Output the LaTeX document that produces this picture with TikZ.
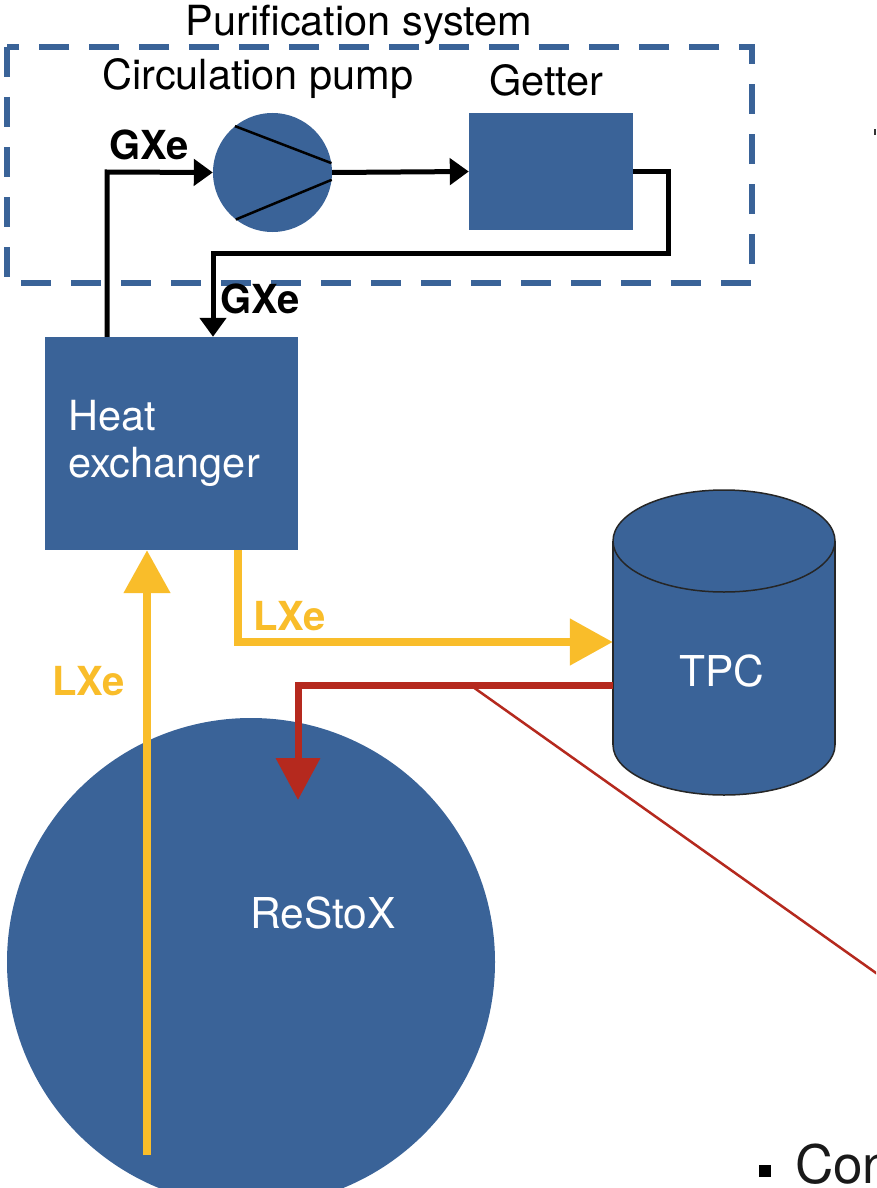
\documentclass[tikz,border=0pt]{standalone}
\usepackage{fontspec}
\setmainfont{TeX Gyre Heros}
\usetikzlibrary{arrows.meta,calc}
\definecolor{boxblue}{RGB}{58,99,152}
\definecolor{lxecol}{RGB}{249,189,42}
\definecolor{redcol}{RGB}{181,41,30}
\begin{document}
\begin{tikzpicture}[x=1pt,y=-1pt,
  lbl/.style={font=\fontsize{41.5}{47}\selectfont, inner sep=0pt},
  bold lbl/.style={font=\fontsize{40}{46}\selectfont\bfseries, inner sep=0pt},
  wlbl/.style={lbl, text=white},
  blockbox/.style={fill=boxblue, inner sep=0pt},
  blkflow/.style={draw=black, line width=5pt, -{Triangle[length=19pt,width=26pt]}},
  lxeflow/.style={draw=lxecol, line width=8pt, -{Triangle[length=43pt,width=45pt]}},
  redflow/.style={draw=redcol, line width=7pt, -{Triangle[length=42pt,width=43pt]}},
  purifbox/.style={draw=boxblue, line width=5.5pt, dash pattern=on 30pt off 20pt},
]
\useasboundingbox (0,0) rectangle (876,1188);
\clip (0,0) rectangle (876,1188);
\fill[white] (0,0) rectangle (876,1188);

% purification system frame
\draw[purifbox] (7,47) rectangle (752,283);
\node[lbl, anchor=base] (purif) at (359,36) {Purification system};
\node[lbl, anchor=base west] (pumplbl) at (102,90) {Circulation pump};
\node[lbl, anchor=base west] (getterlbl) at (489,96) {Getter};

% pump and getter
\node[circle, blockbox, minimum size=119pt] (pump) at (272.5,172.5) {};
\draw[black, line width=2.5pt] (pump.129.5) -- (pump.9);
\draw[black, line width=2.5pt] (pump.232) -- (pump.353);
\node[blockbox, minimum width=164pt, minimum height=117pt] (getter) at (551,171.5) {};

% heat exchanger
\node[blockbox, minimum width=253pt, minimum height=213pt] (hx) at (171.5,443.5) {};
\node[wlbl, anchor=north west, align=left] (hxlbl) at (68,400) {Heat\\exchanger};

% TPC cylinder
\node[minimum width=222pt, minimum height=306pt, inner sep=0pt] (tpc) at (724,642) {};
\fill[boxblue, draw=black!85, line width=1.5pt] (724,745) ellipse [x radius=111, y radius=50];
\fill[boxblue] (613,541) rectangle (835,745);
\draw[black!85, line width=1.5pt] (613,541) -- (613,745) (835,541) -- (835,745);
\fill[boxblue, draw=black!85, line width=1.5pt] (724,541) ellipse [x radius=111, y radius=51];
\node[wlbl, font=\fontsize{42.5}{48}\selectfont, anchor=base] (tpclbl) at (722,686) {TPC};

% ReStoX
\node[circle, blockbox, minimum size=488pt] (restox) at (251,962) {};
\node[wlbl, font=\fontsize{42.5}{48}\selectfont, anchor=base west] (restoxlbl) at (250,928) {ReStoX};

% gas flows
\coordinate (gxup) at (107,172);
\draw[blkflow] (gxup |- hx.north) -- (gxup) -- (pump.west);
\node[bold lbl, anchor=base west] (gxe1) at (109,160) {GXe};
\draw[blkflow] (pump.east) -- (getter.west);
\coordinate (ret1) at (668,253);
\coordinate (ret2) at (213,253);
\draw[blkflow] (getter.east) -| (ret1) -- (ret2) -- (ret2 |- hx.north);
\node[bold lbl, anchor=base west] (gxe2) at (220,313) {GXe};

% liquid flows
\coordinate (lxebot) at (147,1155);
\draw[lxeflow] (lxebot) -- (lxebot |- hx.south);
\node[bold lbl, text=lxecol, anchor=base west] (lxe1) at (52,695) {LXe};
\coordinate (lxeout) at (238,550);
\draw[lxeflow] (lxeout |- hx.south) |- (tpc.west);
\node[bold lbl, text=lxecol, anchor=base west] (lxe2) at (253,630) {LXe};

% return to ReStoX
\coordinate (redstart) at ($(tpc.west)+(0,43)$);
\coordinate (redtip) at (298,800);
\draw[redflow] (redstart) -| (redtip);
\coordinate (thinA) at (473,687);
\coordinate (thinB) at (900,990);
\draw[redcol, line width=2.5pt] (thinA) -- (thinB);

% cut-off slide text
\node[fill=black, minimum size=12pt, inner sep=0pt] (bullet) at (764.5,1171) {};
\node[font=\fontsize{53}{60}\selectfont, inner sep=0pt, anchor=base west, text=black!90] (contxt) at (795,1183) {Con};
\node[fill=black!80, minimum width=2pt, minimum height=6pt, inner sep=0pt] (edgemark) at (875,132) {};
\end{tikzpicture}
\end{document}
